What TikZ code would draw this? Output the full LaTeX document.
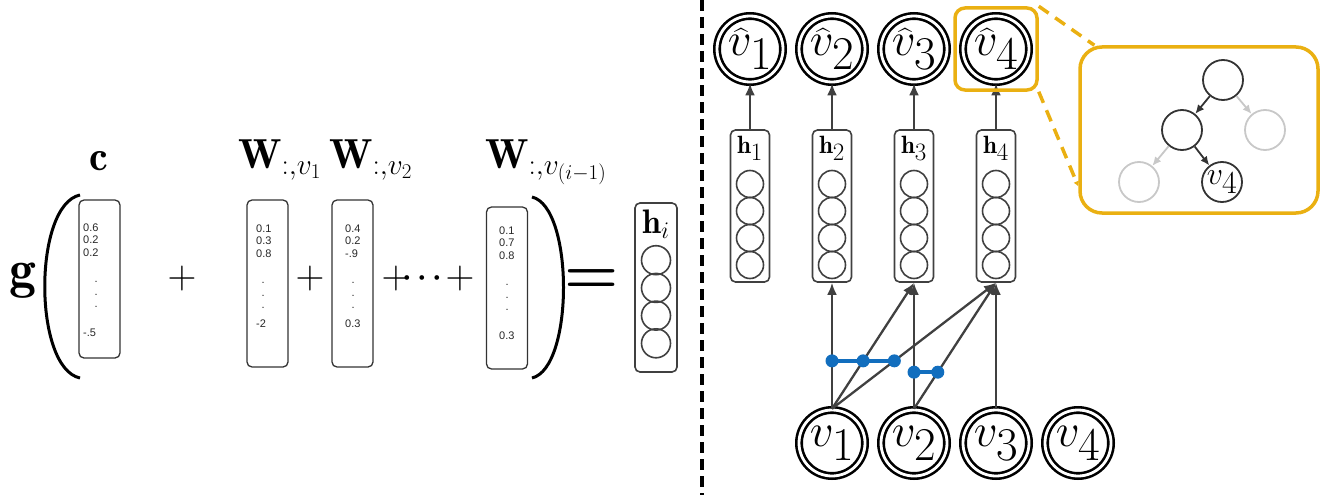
\RequirePackage{fix-cm}
\documentclass[tikz,border=0pt]{standalone}
\usepackage{amsmath}
\usepackage{fontspec}
\newfontfamily\numfont{Liberation Sans}
\usetikzlibrary{arrows.meta,calc,positioning}

\definecolor{edgegray}{RGB}{64,64,64}
\definecolor{fadegray}{RGB}{200,200,200}
\definecolor{zoomorange}{RGB}{234,176,18}
\definecolor{dotblue}{RGB}{18,110,190}

\begin{document}
\begin{tikzpicture}[x=1pt,y=-1pt,
    vec/.style={draw=black!80, line width=1.3pt, rounded corners=5pt,
      minimum width=41pt, inner sep=0pt},
    num/.style={font=\numfont\fontsize{11}{12}\selectfont, anchor=base west,
      inner sep=0pt, text=black!85},
    big/.style={font=\fontsize{42}{42}\selectfont, inner sep=0pt},
    op/.style={font=\fontsize{40}{40}\selectfont, inner sep=0pt},
    hbox/.style={draw=edgegray, line width=1.6pt, rounded corners=5pt,
      minimum width=39pt, minimum height=152pt, inner sep=0pt},
    unit/.style={circle, draw=edgegray, line width=1.6pt, minimum size=27pt,
      inner sep=0pt},
    token/.style={circle, draw=black, line width=2.6pt, double=white,
      double distance=2.8pt, minimum size=66pt, inner sep=0pt,
      font=\fontsize{47}{47}\selectfont},
    link/.style={draw=edgegray, line width=2.3pt,
      -{Latex[length=12pt,width=10pt]}},
    mask/.style={draw=dotblue, line width=4pt},
    maskdot/.style={circle, fill=dotblue, inner sep=0pt, minimum size=13pt},
    zoombox/.style={draw=zoomorange, line width=3.5pt, rounded corners=10pt,
      inner sep=0pt},
    zoomline/.style={draw=zoomorange, line width=3.5pt,
      dash pattern=on 12pt off 8pt},
    tree/.style={circle, draw=black!80, line width=1.8pt, minimum size=40pt,
      inner sep=0pt, font=\fontsize{32}{32}\selectfont},
    branch/.style={draw=black!80, line width=1.8pt,
      -{Latex[length=9pt,width=8pt]}}]
\useasboundingbox (0,0) rectangle (1327,495);

% left: g( c + W + W + ... + W ) = h_i
\node[font=\fontsize{54}{54}\selectfont, inner sep=0pt, anchor=base] (g) at (23,287) {$\mathbf{g}$};
\draw[line width=3pt] (80,195) .. controls (33,205) and (33,368) .. (80,378);
\draw[line width=3pt] (532,197) .. controls (574,207) and (574,368) .. (532,378);

\foreach \n/\cx/\cy/\ht/\tx/\dx/\ty/\a/\b/\c/\e/\ey in {
    c/99.5/279/158/83/11.5/231/0.6/0.2/0.2/-.5/105,
    w1/267.5/283.5/167/256/5.5/232/0.1/0.3/0.8/-2/95,
    w2/352.5/283.5/167/345/6.5/232/0.4/0.2/-.9/0.3/95,
    wi/507/288/162/499/6.5/234/0.1/0.7/0.8/0.3/105}{
  \node[vec, minimum height=\ht pt] (\n) at (\cx,\cy) {};
  \node[num] (\n-1) at (\tx,\ty) {\a};
  \node[num] (\n-2) at (\tx,\ty+12.5) {\b};
  \node[num] (\n-3) at (\tx,\ty+25) {\c};
  \foreach \k in {1,2,3}
    \node[num] (\n-dot\k) at (\tx+\dx,\ty+39+12.5*\k) {.};
  \node[num] (\n-last) at (\tx,\ty+\ey) {\e};
}

\node[big, anchor=base] (c-lab) at (99,170) {$\mathbf{c}$};
\node[big, anchor=base west] (w1-lab) at (238,168) {$\mathbf{W}_{:,v_1}$};
\node[big, anchor=base west] (w2-lab) at (329,168) {$\mathbf{W}_{:,v_2}$};
\node[big, anchor=base west] (wi-lab) at (485,168) {$\mathbf{W}_{:,v_{(i-1)}}$};

\node[op] (plus1) at (182,278) {$+$};
\node[op] (plus2) at (310,278) {$+$};
\node[op] (plus3) at (396,278) {$+$};
\node[font=\fontsize{30}{30}\selectfont\boldmath, inner sep=0pt] (more) at (425,278) {$\cdots$};
\node[op] (plus4) at (460,278) {$+$};
\node[font=\fontsize{62}{62}\selectfont\bfseries, inner sep=0pt] (eq) at (592,282) {=};

\node[hbox, minimum width=42pt, minimum height=169pt] (hi) at (656,287.5) {};
\node[font=\fontsize{34}{34}\selectfont, inner sep=0pt, anchor=base] (hi-lab) at (656,233) {$\mathbf{h}_i$};
\foreach \k in {1,...,4}
  \node[unit, minimum size=29pt] (hi-\k) at (656,232.5+27.7*\k) {};

% divider
\draw[line width=4pt, dash pattern=on 11pt off 6pt] (702,0) -- (702,495);

% right: tokens, hidden states and masked connections
\foreach \i in {1,...,4}{
  \pgfmathsetmacro\x{750+82*(\i-1)}
  \node[token] (top\i) at (\x,49) {$\widehat{v}_{\textstyle\i}$};
  \node[hbox] (h\i) at (\x,206) {};
  \node[font=\fontsize{25}{25}\selectfont, inner sep=0pt, anchor=base] (hl\i) at (\x,153) {$\mathbf{h}_{\textstyle\i}$};
  \foreach \k in {1,...,4}
    \node[unit] (h\i-\k) at (\x,157+27*\k) {};
  \draw[link, line width=2.8pt] (h\i.north) -- (top\i.south);
  \node[token] (v\i) at (\x+82,443) {$v_{\textstyle\i}$};
}

\foreach \a/\b in {1/2,1/3,1/4,2/3,2/4,3/4}
  \draw[link] (v\a.north) -- (h\b.south);

\node[maskdot] (m1) at ($(v1.north)!0.38!(h2.south)$) {};
\node[maskdot] (m2) at ($(v1.north)!0.38!(h3.south)$) {};
\node[maskdot] (m3) at ($(v1.north)!0.38!(h4.south)$) {};
\node[maskdot] (m4) at ($(v2.north)!0.29!(h3.south)$) {};
\node[maskdot] (m5) at ($(v2.north)!0.29!(h4.south)$) {};
\draw[mask] (m1.center) -- (m2.center) -- (m3.center);
\draw[mask] (m4.center) -- (m5.center);

% zoom on the last token
\node[zoombox, minimum size=82pt] (zoom) at (top4) {};
\node[zoombox, rounded corners=22pt, minimum width=238pt, minimum height=166pt] (inset) at (1199,130) {};
\draw[zoomline] (zoom.north east) -- (inset.141);
\draw[zoomline, -{Latex[length=5pt,width=6pt]}] (zoom.south east) -- (inset.205);

\node[tree] (r) at (1223,80) {};
\node[tree] (t1) at (1182,130) {};
\node[tree, draw=fadegray] (t2) at (1265,130) {};
\node[tree, draw=fadegray] (t3) at (1139,182) {};
\node[tree] (t4) at (1222,182) {$v_{\textstyle 4}$};
\draw[branch] (r) -- (t1);
\draw[branch, draw=fadegray] (r) -- (t2);
\draw[branch, draw=fadegray] (t1) -- (t3);
\draw[branch] (t1) -- (t4);
\end{tikzpicture}
\end{document}
